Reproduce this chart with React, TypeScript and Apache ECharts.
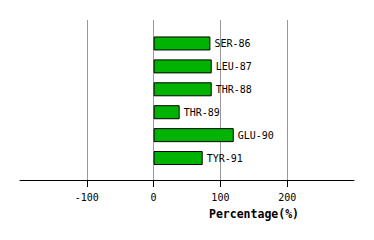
import React, { useEffect, useRef } from "react";
import * as echarts from "echarts";

const categories = ["SER-86", "LEU-87", "THR-88", "THR-89", "GLU-90", "TYR-91"];
const values = [85, 87, 87, 39, 120, 73.5];
const tickValues = [-100, 0, 100, 200];
const axisTitle = "Percentage(%)";

export default function App() {
  const ref = useRef<HTMLDivElement>(null);
  useEffect(() => {
    if (!ref.current) return;
    const chart = echarts.init(ref.current, null, { renderer: "svg" });
    const font = "'DejaVu Sans Mono', monospace";
    chart.setOption({
      animation: false,
      backgroundColor: "#ffffff",
      grid: [
        { left: 20, width: 334, top: 20, height: 160 },
        { left: 20, width: 334, top: 32, height: 137.5 },
      ],
      xAxis: [
        {
          gridIndex: 0,
          type: "value",
          min: -200,
          max: 300,
          interval: 100,
          axisLine: { show: true, onZero: false, lineStyle: { color: "#000", width: 1 } },
          axisTick: {
            show: true,
            length: 7,
            inside: false,
            customValues: tickValues,
            lineStyle: { color: "#000", width: 1 },
          },
          axisLabel: {
            show: true,
            customValues: tickValues,
            margin: 12,
            color: "#000",
            fontFamily: font,
            fontSize: 10,
          },
          splitLine: {
            show: true,
            lineStyle: { color: "#999", width: 1 },
          },
        },
        {
          gridIndex: 1,
          type: "value",
          min: -200,
          max: 300,
          show: false,
          splitLine: { show: false },
        },
      ],
      yAxis: [
        { gridIndex: 0, type: "category", data: categories, show: false },
        {
          gridIndex: 1,
          type: "category",
          data: categories,
          inverse: true,
          show: false,
        },
      ],
      graphic: [
        {
          type: "text",
          x: 254,
          y: 214,
          style: {
            text: axisTitle,
            fontFamily: font,
            fontWeight: "bold",
            fontSize: 11.5,
            fill: "#000",
            align: "center",
            verticalAlign: "middle",
          },
        },
      ],
      series: [
        {
          type: "bar",
          xAxisIndex: 1,
          yAxisIndex: 1,
          data: values,
          barWidth: 14,
          itemStyle: { color: "#00b300", borderColor: "#000", borderWidth: 1 },
          label: {
            show: true,
            position: "right",
            distance: 4,
            formatter: (p: any) => categories[p.dataIndex],
            color: "#000",
            fontFamily: font,
            fontSize: 10,
          },
        },
      ],
    });
    return () => chart.dispose();
  }, []);
  return <div ref={ref} style={{ width: 374, height: 240, margin: -8 }} />;
}
